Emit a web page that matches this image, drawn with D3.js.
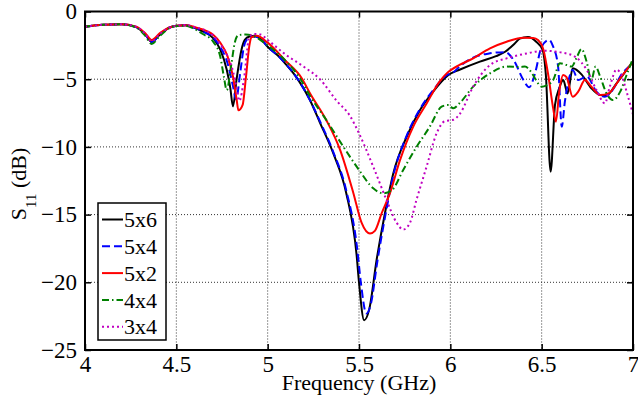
<!DOCTYPE html>
<html>
<head>
<meta charset="utf-8">
<script src="https://cdn.jsdelivr.net/npm/d3@7"></script>
<style>
  body { margin: 0; background: #fff; }
  svg { display: block; }
  svg text { font-family: "Liberation Serif", "DejaVu Serif", serif !important; fill: #000; }
</style>
</head>
<body>
<svg id="chart" width="638" height="396"></svg>
<script>
// tick labels
var xTicks = [4, 4.5, 5, 5.5, 6, 6.5, 7];
var yTicks = [-25, -20, -15, -10, -5, 0];

// shared start (4.0 - 4.6 GHz)
var fStart = [4.0, 4.1, 4.2, 4.28, 4.33, 4.365, 4.41, 4.46, 4.5, 4.55];

// 5x6
var f5x6 = fStart.concat([4.6, 4.65, 4.7, 4.74, 4.776, 4.795, 4.81, 4.83, 4.857, 4.875, 4.9, 4.93, 4.96, 5.0, 5.067, 5.1, 5.16, 5.23, 5.286, 5.36, 5.43, 5.487, 5.5, 5.528, 5.556, 5.597, 5.642, 5.688, 5.761, 5.834, 5.907, 5.98, 6.0, 6.05, 6.162, 6.25, 6.3, 6.35, 6.38, 6.425, 6.47, 6.505, 6.523, 6.549, 6.573, 6.596, 6.618, 6.642, 6.67, 6.718, 6.772, 6.82, 6.855, 6.91, 6.965, 7.0]);
var s5x6 = [-1.12, -0.98, -0.95, -1.15, -1.7, -2.25, -1.7, -1.2, -1.05, -1.02,
  -1.2, -1.5, -1.95, -2.8, -4.3, -5.6, -7.0, -5.0, -2.8, -2.1, -1.85, -1.8, -2.0, -2.6, -3.4, -3.9, -4.9, -6.5, -8.2, -10.5, -13.4, -18.0, -20.0, -22.8, -22.0, -18.3, -14.9, -11.95, -9.25, -7.27, -5.9, -4.8, -4.6, -4.3, -3.7, -3.3, -2.97, -2.4, -2.0, -1.88, -2.23, -2.84, -4.69, -11.83, -6.9, -5.67, -5.06, -6.05, -4.2, -4.64, -5.67, -6.17, -6.2, -5.3, -4.32, -3.7];

// 5x4
var f5x4 = fStart.concat([4.6, 4.65, 4.7, 4.74, 4.78, 4.81, 4.827, 4.85, 4.87, 4.885, 4.92, 4.96, 5.0, 5.067, 5.16, 5.23, 5.286, 5.36, 5.43, 5.49, 5.51, 5.54, 5.565, 5.6, 5.645, 5.69, 5.76, 5.834, 5.907, 5.98, 6.016, 6.05, 6.125, 6.217, 6.3, 6.346, 6.4, 6.432, 6.463, 6.5, 6.541, 6.563, 6.59, 6.61, 6.627, 6.65, 6.67, 6.7, 6.746, 6.8, 6.846, 6.9, 6.93, 7.0]);
var s5x4 = [-1.12, -0.98, -0.95, -1.15, -1.7, -2.25, -1.7, -1.2, -1.05, -1.02,
  -1.2, -1.5, -1.9, -2.6, -3.8, -5.5, -6.5, -4.5, -2.6, -2.1, -1.85, -2.0, -2.6, -3.4, -4.9, -6.5, -8.1, -10.4, -13.2, -17.5, -20.0, -22.3, -21.6, -18.5, -15.0, -12.0, -9.2, -7.2, -5.8, -4.7, -4.5, -4.07, -3.4, -3.09, -3.0, -3.58, -5.06, -5.6, -4.6, -2.6, -2.1, -2.6, -4.07, -8.5, -6.66, -4.93, -4.32, -5.06, -4.8, -5.92, -6.3, -5.55, -4.8, -3.85];

// 5x2
var f5x2 = fStart.concat([4.6, 4.65, 4.7, 4.74, 4.78, 4.81, 4.83, 4.84, 4.863, 4.88, 4.9, 4.912, 4.94, 5.0, 5.095, 5.19, 5.23, 5.32, 5.396, 5.469, 5.514, 5.56, 5.587, 5.624, 5.67, 5.724, 5.797, 5.87, 5.94, 5.98, 6.0, 6.05, 6.125, 6.217, 6.308, 6.4, 6.454, 6.48, 6.51, 6.536, 6.563, 6.578, 6.596, 6.618, 6.636, 6.67, 6.7, 6.737, 6.772, 6.82, 6.866, 6.93, 7.0]);
var s5x2 = [-1.12, -0.98, -0.95, -1.12, -1.6, -2.1, -1.6, -1.2, -1.05, -1.02,
  -1.15, -1.35, -1.7, -2.3, -3.3, -4.8, -6.5, -7.3, -6.9, -5.0, -2.5, -1.9, -1.8, -2.3, -3.6, -5.0, -6.0, -8.0, -10.2, -13.4, -15.6, -16.4, -16.2, -14.9, -13.4, -11.0, -8.5, -6.8, -5.2, -4.57, -4.35, -3.95, -3.46, -2.72, -2.23, -1.93, -1.95, -2.1, -2.84, -4.69, -7.15, -8.14, -5.92, -4.69, -4.85, -6.3, -5.92, -5.06, -5.55, -6.17, -6.05, -4.93, -3.7];

// 4x4
var f4x4 = fStart.concat([4.6, 4.65, 4.7, 4.74, 4.76, 4.776, 4.8, 4.82, 4.84, 4.88, 4.92, 5.0, 5.095, 5.18, 5.23, 5.32, 5.414, 5.5, 5.578, 5.633, 5.68, 5.742, 5.815, 5.888, 5.952, 5.99, 6.016, 6.05, 6.125, 6.217, 6.308, 6.38, 6.408, 6.444, 6.463, 6.5, 6.527, 6.563, 6.6, 6.636, 6.664, 6.69, 6.718, 6.746, 6.772, 6.795, 6.82, 6.855, 6.89, 6.93, 6.965, 7.0]);
var s4x4 = [-1.12, -0.98, -0.95, -1.18, -1.8, -2.4, -1.8, -1.25, -1.08, -1.05,
  -1.3, -1.7, -2.2, -3.3, -4.8, -5.8, -4.0, -2.3, -1.74, -1.7, -1.8, -2.5, -3.6, -5.0, -6.2, -8.0, -9.98, -11.7, -13.06, -13.43, -13.2, -11.7, -10.0, -8.5, -7.03, -6.9, -7.15, -6.78, -5.55, -4.57, -4.07, -4.1, -4.07, -4.5, -4.93, -5.55, -5.45, -5.06, -3.83, -3.95, -4.07, -3.46, -2.77, -3.7, -5.06, -4.07, -4.8, -6.05, -6.54, -5.92, -4.69, -3.46];

// 3x4
var f3x4 = fStart.concat([4.6, 4.65, 4.7, 4.74, 4.78, 4.81, 4.83, 4.845, 4.87, 4.9, 4.92, 4.96, 5.0, 5.1, 5.2, 5.286, 5.378, 5.45, 5.5, 5.578, 5.65, 5.706, 5.742, 5.779, 5.815, 5.87, 5.925, 5.97, 6.016, 6.05, 6.125, 6.217, 6.308, 6.418, 6.509, 6.618, 6.69, 6.746, 6.8, 6.846, 6.873, 6.91, 6.937, 6.965, 7.0]);
var s3x4 = [-1.12, -0.98, -0.95, -1.12, -1.65, -2.2, -1.65, -1.2, -1.05, -1.0,
  -1.15, -1.35, -1.75, -2.4, -3.3, -4.4, -5.6, -6.6, -5.0, -1.86, -1.66, -1.7, -2.1, -3.2, -4.1, -5.0, -6.6, -7.7, -9.0, -11.46, -13.9, -15.6, -16.1, -15.6, -13.9, -11.46, -9.0, -8.1, -8.0, -7.6, -5.55, -3.95, -3.46, -3.1, -2.9, -3.05, -3.4, -4.3, -5.8, -6.78, -5.55, -4.3, -4.7, -5.92, -7.6];

var names = ["5x6", "5x4", "5x2", "4x4", "3x4"];
var freqs = [f5x6, f5x4, f5x2, f4x4, f3x4];
var vals = [s5x6, s5x4, s5x2, s4x4, s3x4];
var colors = ["#000000", "#0000ff", "#ff0000", "#008000", "#c000c0"];
var dashes = [null, "8,4", null, "7,3,1.5,3", "2,3"];

(function () {
    var pL = 85, pR = 633, pT = 11.5, pB = 350;
    var serif = "'Liberation Serif', 'DejaVu Serif', serif";
    var fs = 23;

    var svg = d3.select("#chart");

    var x = d3.scaleLinear().domain([4, 7]).range([pL, pR]);
    var y = d3.scaleLinear().domain([-25, 0]).range([pB, pT]);

    // grid
    var grid = svg.append("g");
    grid.selectAll("line.gx")
        .data(xTicks.slice(1, -1))
        .enter().append("line")
        .attr("x1", d => x(d)).attr("x2", d => x(d))
        .attr("y1", pT).attr("y2", pB)
        .attr("stroke", "#333").attr("stroke-width", 1)
        .attr("stroke-dasharray", "1,2");
    grid.selectAll("line.gy")
        .data(yTicks.slice(1, -1))
        .enter().append("line")
        .attr("x1", pL).attr("x2", pR)
        .attr("y1", d => y(d)).attr("y2", d => y(d))
        .attr("stroke", "#333").attr("stroke-width", 1)
        .attr("stroke-dasharray", "1,2");

    // curves
    var line = d3.line()
        .x(d => x(d[0]))
        .y(d => y(d[1]))
        .curve(d3.curveMonotoneX);

    var plot = svg.append("g");
    names.forEach((n, i) => {
        var pts = freqs[i].map((f, j) => [f, vals[i][j]]);
        plot.append("path")
            .datum(pts)
            .attr("fill", "none")
            .attr("stroke", colors[i])
            .attr("stroke-width", 2)
            .attr("stroke-dasharray", dashes[i])
            .attr("stroke-linejoin", "round")
            .attr("d", line);
    });

    // axes
    var xAxis = svg.append("g")
        .attr("transform", "translate(0," + pB + ")")
        .call(d3.axisBottom(x).tickValues(xTicks).tickSize(-6).tickPadding(6).tickFormat(d3.format("")));
    var xTop = svg.append("g")
        .attr("transform", "translate(0," + pT + ")")
        .call(d3.axisTop(x).tickValues(xTicks).tickSize(-6).tickFormat(""));
    var yAxis = svg.append("g")
        .attr("transform", "translate(" + pL + ",0)")
        .call(d3.axisLeft(y).tickValues(yTicks).tickSize(-6).tickPadding(8));
    var yRight = svg.append("g")
        .attr("transform", "translate(" + pR + ",0)")
        .call(d3.axisRight(y).tickValues(yTicks).tickSize(-6).tickFormat(""));

    [xAxis, xTop, yAxis, yRight].forEach(g => {
        g.attr("font-family", null).attr("font-size", fs);
        g.select(".domain").remove();
        g.selectAll(".tick line").attr("stroke", "#000").attr("stroke-width", 1.5);
        g.selectAll("text").attr("fill", "#000").style("font-family", serif);
    });

    svg.append("rect")
        .attr("x", pL).attr("y", pT)
        .attr("width", pR - pL).attr("height", pB - pT)
        .attr("fill", "none").attr("stroke", "#000").attr("stroke-width", 2);

    // labels
    svg.append("text")
        .attr("x", (pL + pR) / 2).attr("y", 390)
        .attr("text-anchor", "middle")
        .attr("font-size", 22)
        .style("font-family", serif)
        .text("Frequency (GHz)");

    var yl = svg.append("text")
        .attr("transform", "translate(26,184) rotate(-90)")
        .attr("text-anchor", "middle")
        .attr("font-size", 22)
        .style("font-family", serif);
    yl.append("tspan").text("S");
    yl.append("tspan").attr("font-size", 15).attr("dy", 10).text("11");
    yl.append("tspan").attr("dy", -10).text(" (dB)");

    // legend
    var leg = svg.append("g");
    leg.append("rect")
        .attr("x", 98).attr("y", 203)
        .attr("width", 68).attr("height", 137)
        .attr("fill", "#fff").attr("stroke", "#000").attr("stroke-width", 1.5);

    var items = leg.selectAll("g.item")
        .data(names)
        .enter().append("g")
        .attr("transform", (d, i) => "translate(0," + (219.5 + i * 26.8) + ")");
    items.append("line")
        .attr("x1", 102).attr("x2", 123)
        .attr("stroke", (d, i) => colors[i])
        .attr("stroke-width", 2)
        .attr("stroke-dasharray", (d, i) => dashes[i]);
    items.append("text")
        .attr("x", 124).attr("dy", "0.35em")
        .attr("font-size", 22)
        .style("font-family", serif)
        .text(d => d);
})();
</script>
</body>
</html>
